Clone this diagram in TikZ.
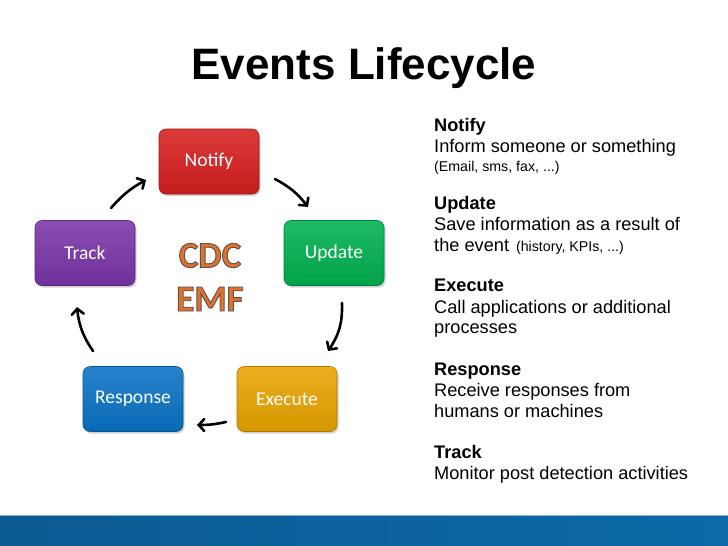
\documentclass[tikz,border=0pt]{standalone}
\usepackage{fontspec}
\setmainfont{Liberation Sans}
\newfontfamily\calib{Carlito}
\usetikzlibrary{arrows.meta,shadows}
\definecolor{cred}{HTML}{D71F1F}
\definecolor{cgreen}{HTML}{00B050}
\definecolor{cpurple}{HTML}{7A35A8}
\definecolor{cblue}{HTML}{0A72C4}
\definecolor{cgold}{HTML}{E8A400}
\definecolor{corange}{HTML}{E0702A}
\definecolor{cbar}{HTML}{0B5A92}
\definecolor{cbarb}{HTML}{0C6AA8}
\definecolor{cbarline}{HTML}{8AB4D4}
\newcommand\outlinedtext[1]{\textcolor{corange}{\special{pdf:literal direct 2 Tr 0.9 w 0.33 0.33 0.33 RG}#1\special{pdf:literal direct 0 Tr}}}
\begin{document}
\begin{tikzpicture}[x=1pt,y=-1pt,
  stepbox/.style={rounded corners=7pt, minimum width=100pt, minimum height=65pt,
    inner sep=0pt, text=white, font=\calib\fontsize{19.5}{22}\selectfont,
    draw=#1!75!black, line width=0.6pt, top color=#1!88!white, bottom color=#1!92!black,
    drop shadow={shadow xshift=1.5pt, shadow yshift=-2pt, opacity=0.35}},
  cyc/.style={line width=2.6pt, line cap=round, -{Straight Barb[length=5.5pt,width=12pt,line cap=round]}},
  desc/.style={anchor=base west, inner sep=0pt, font=\fontsize{18.2}{21}\selectfont},
  deschead/.style={desc, font=\bfseries\fontsize{18.2}{21}\selectfont},
  descsmall/.style={desc, font=\fontsize{14.2}{16}\selectfont},
  big/.style={anchor=base, inner sep=0pt, font=\calib\bfseries\fontsize{37}{40}\selectfont}]
\useasboundingbox (0,0) rectangle (728,546);
\fill[white] (0,0) rectangle (728,546);
% bottom bar
\fill[left color=cbar, right color=cbarb] (0,515) rectangle (728,546);
\draw[cbarline, line width=1pt] (0,515.5) -- (728,515.5);
% title
\node[anchor=base, inner sep=0pt, font=\bfseries\fontsize{44}{50}\selectfont] (title) at (364,79.5) {Events Lifecycle};
% boxes
\node[stepbox=cred] (notify) at (209,161.5) {Notify};
\node[stepbox=cgreen] (update) at (334,253) {Update};
\node[stepbox=cgold] (execute) at (287,399) {Execute};
\node[stepbox=cblue] (response) at (133,399) {Response};
\node[stepbox=cpurple] (track) at (85,253) {Track};
% center text
\node[big] (cdc) at (210,267.5) {\outlinedtext{CDC}};
\node[big] (emf) at (210,311) {\outlinedtext{EMF}};
% arrows
\coordinate (a1s) at (275,179); \coordinate (a1e) at (308,207);
\coordinate (a2s) at (342,303); \coordinate (a2e) at (328,351);
\coordinate (a3s) at (226,422); \coordinate (a3e) at (197,425);
\coordinate (a4s) at (93,351);  \coordinate (a4e) at (77,307);
\coordinate (a5s) at (111,208); \coordinate (a5e) at (146,180);
\draw[cyc] (a1s) to[bend left=12] (a1e);
\draw[cyc] (a2s) to[bend left=18] (a2e);
\draw[cyc] (a3s) to[bend left=6] (a3e);
\draw[cyc] (a4s) to[bend left=14] (a4e);
\draw[cyc] (a5s) to[bend left=10] (a5e);
% description
\node[deschead] (h1) at (434,131.7) {Notify};
\node[desc] (l11) at (434,152.7) {Inform someone or something};
\node[descsmall] (l12) at (434,171) {(Email, sms, fax, ...)};
\node[deschead] (h2) at (434,209.5) {Update};
\node[desc] (l21) at (434,230.7) {Save information as a result of};
\node[desc] (l22) at (434,251.7) {the event\hspace{7pt}{\fontsize{14.2}{16}\selectfont(history, KPIs, ...)}};
\node[deschead] (h3) at (434,291.7) {Execute};
\node[desc] (l31) at (434,313) {Call applications or additional};
\node[desc] (l32) at (434,333) {processes};
\node[deschead] (h4) at (434,375) {Response};
\node[desc] (l41) at (434,396.5) {Receive responses from};
\node[desc] (l42) at (434,417.5) {humans or machines};
\node[deschead] (h5) at (434,458) {Track};
\node[desc] (l51) at (434,479.5) {Monitor post detection activities};
\end{tikzpicture}
\end{document}
